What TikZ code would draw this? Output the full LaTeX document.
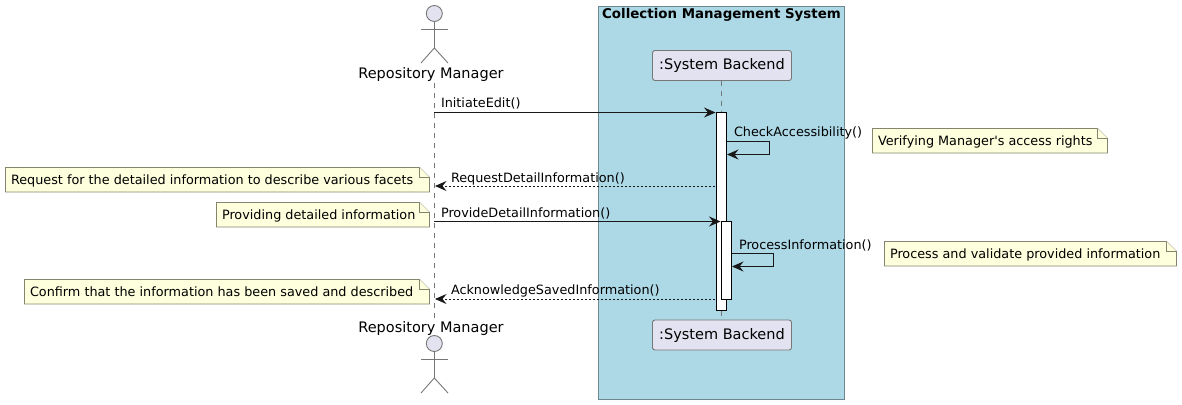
\documentclass[tikz,border=0pt]{standalone}
\usepackage{fontspec}
\setmainfont{DejaVu Sans}
\usetikzlibrary{arrows.meta}
\definecolor{boxblue}{HTML}{ADD8E6}
\definecolor{partfill}{HTML}{E2E2F0}
\definecolor{notefill}{HTML}{FEFFDD}
\definecolor{boxline}{HTML}{6E8791}
\definecolor{noteline}{HTML}{85856F}
\definecolor{inkline}{HTML}{777777}
\definecolor{msgline}{HTML}{181818}
\tikzset{
  every node/.style={inner sep=0pt,outer sep=0pt},
  actorline/.style={draw=inkline,line width=.9pt},
  actorhead/.style={circle,draw=inkline,fill=partfill,line width=.9pt,minimum size=16pt},
  partbox/.style={draw=inkline,fill=partfill,rounded corners=2.5pt,line width=.9pt,minimum width=139pt,minimum height=30pt,font=\fontsize{14.5}{16}\selectfont},
  lifeline/.style={draw=inkline,line width=.9pt,dash pattern=on 5pt off 5pt},
  actbox/.style={draw=black,fill=white,line width=1pt,minimum width=10pt},
  msg/.style={draw=msgline,line width=1pt,-{Stealth[length=11.5pt,width=10pt,inset=4pt]}},
  reply/.style={msg,dash pattern=on 2pt off 2pt},
  msgtext/.style={anchor=base west,font=\fontsize{12.8}{15}\selectfont},
  notetext/.style={anchor=base west,font=\fontsize{12.8}{15}\selectfont},
  actortext/.style={anchor=base,font=\fontsize{14.5}{16}\selectfont},
  notebody/.style={draw=noteline,fill=notefill,line width=.9pt,line join=miter}
}
\newcommand{\notebox}[6]{%
  \path[notebody] (#2,#3) -- (#4-10,#3) -- (#4,#3+10) -- (#4,#5) -- (#2,#5) -- cycle;
  \path[notebody,fill=notefill] (#4-10,#3) -- (#4-10,#3+10) -- (#4,#3+10);
  \node[notetext] (#1) at (#2+5.5,#5-7.2) {#6};
}
\newcommand{\stickman}[2]{%
  \node[actorhead] (#1head) at (434.3,#2) {};
  \coordinate (#1hip) at (434.3,#2+34.5);
  \draw[actorline] (#1head.south) -- (#1hip);
  \coordinate (#1armL) at (421,#2+15.5);
  \coordinate (#1armR) at (448,#2+15.5);
  \draw[actorline] (#1armL) -- (#1armR);
  \coordinate (#1legL) at (421,#2+49.5);
  \coordinate (#1legR) at (448,#2+49.5);
  \draw[actorline] (#1legL) -- (#1hip) -- (#1legR);
}
\begin{document}
\begin{tikzpicture}[x=1pt,y=-1pt]
\useasboundingbox (0,0) rectangle (1182,404);
% group box
\node[draw=boxline,fill=boxblue,line width=.9pt,minimum width=246pt,minimum height=393pt,anchor=north west] (sysbox) at (598.5,6.5) {};
\node[anchor=base,font=\bfseries\fontsize{13.4}{15}\selectfont] (systitle) at (721.5,18.5) {Collection Management System};
% participants
\node[partbox] (backTop) at (722,65.5) {:System Backend};
\node[partbox] (backBot) at (722,335) {:System Backend};
% actors
\stickman{top}{13.5}
\node[actortext] (mgrTop) at (431,78) {Repository Manager};
\node[actortext] (mgrBot) at (431,332) {Repository Manager};
\stickman{bot}{343.5}
% lifelines
\coordinate (lifeAtop) at (434.3,83);
\coordinate (lifeAbot) at (434.3,318);
\draw[lifeline] (lifeAtop) -- (lifeAbot);
\coordinate (lifeB) at (721.5,81);
\draw[lifeline] (backTop.south -| lifeB) -- (backBot.north -| lifeB);
% activations
\node[actbox,minimum height=198pt,anchor=north] (act1) at (721.5,112.5) {};
\node[actbox,minimum height=78pt,anchor=north] (act2) at (726.5,221) {};
% messages
\coordinate (a1) at (434.3,112.5);
\coordinate (b1) at (715.5,112.5);
\draw[msg] (a1) -- (b1);
\node[msgtext] (m1) at (441,107) {InitiateEdit()};
\coordinate (c1) at (727,141);
\coordinate (c2) at (769,141);
\coordinate (c3) at (769,154.5);
\coordinate (c4) at (727,154.5);
\draw[msg] (c1) -- (c2) -- (c3) -- (c4);
\node[msgtext] (m2) at (734,136) {CheckAccessibility()};
\coordinate (d1) at (715,186);
\coordinate (d2) at (435,186);
\draw[reply] (d1) -- (d2);
\node[msgtext] (m3) at (451,182) {RequestDetailInformation()};
\coordinate (e1) at (434.3,221.5);
\coordinate (e2) at (720.5,221.5);
\draw[msg] (e1) -- (e2);
\node[msgtext] (m4) at (441,217) {ProvideDetailInformation()};
\coordinate (f1) at (732,253.5);
\coordinate (f2) at (773.5,253.5);
\coordinate (f3) at (773.5,266.5);
\coordinate (f4) at (732,266.5);
\draw[msg] (f1) -- (f2) -- (f3) -- (f4);
\node[msgtext] (m5) at (739,249) {ProcessInformation()};
\coordinate (g1) at (715,299);
\coordinate (g2) at (435,299);
\draw[reply] (g1) -- (g2);
\node[msgtext] (m6) at (451,294) {AcknowledgeSavedInformation()};
% notes
\notebox{n1}{872.5}{128.5}{1107.5}{153}{Verifying Manager\textquotesingle s access rights}
\notebox{n2}{884.5}{241.5}{1176.5}{266}{Process and validate provided information}
\notebox{n3}{5.5}{167.5}{429.5}{192}{Request for the detailed information to describe various facets}
\notebox{n4}{216.5}{202.5}{429.5}{227}{Providing detailed information}
\notebox{n5}{24.5}{279.5}{429.5}{304}{Confirm that the information has been saved and described}
\end{tikzpicture}
\end{document}
